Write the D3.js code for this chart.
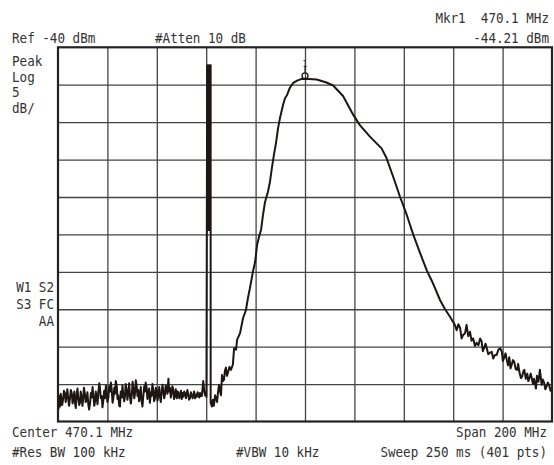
<!DOCTYPE html>
<html>
<head>
<meta charset="utf-8">
<script src="https://cdnjs.cloudflare.com/ajax/libs/d3/7.8.5/d3.min.js"></script>
<style>
  html, body { margin: 0; padding: 0; background: #ffffff; }
  svg { display: block; }
  text { font-family: "DejaVu Sans Mono", "Liberation Mono", monospace; fill: #333; white-space: pre; }
</style>
</head>
<body>
<svg id="chart" width="554" height="465"></svg>
<script>
// ---- Instrument settings ----
const refLevel = -40;        // dBm (top of screen)
const dbPerDiv = 5;
const numDivY = 10;
const centerFreq = 470.1;    // MHz
const spanFreq = 200;        // MHz
const numDivX = 10;

// ---- Marker ----
const markerFreq = 470.1;
const markerLevel = -44.21;
const markerLabel = "1";

// ---- Annotation texts ----
const topLeftTexts = ["Ref -40 dBm", "#Atten 10 dB"];
const markerTexts = ["Mkr1  470.1 MHz", "-44.21 dBm"];
const leftTexts = ["Peak", "Log", "5", "dB/"];
const leftStatus = ["W1 S2", "S3 FC", "AA"];
const bottomTexts = ["Center 470.1 MHz", "Span 200 MHz", "#Res BW 100 kHz", "#VBW 10 kHz", "Sweep 250 ms (401 pts)"];

// ---- Trace: [frequency MHz, level dBm] ----
const noiseFloor = [
  [370.1,-86.9],[370.3,-88.3],[370.5,-87.6],[370.7,-86.6],[370.9,-88.0],[371.2,-86.3],[371.5,-87.0],[371.8,-87.8],
  [372.2,-86.9],[372.5,-85.9],[372.9,-86.2],[373.2,-87.4],[373.6,-86.5],[373.9,-85.7],[374.3,-87.2],[374.6,-87.9],
  [375.0,-86.7],[375.3,-85.8],[375.7,-86.3],[376.0,-87.6],[376.3,-87.1],[376.7,-86.0],[377.0,-87.5],[377.3,-88.2],
  [377.7,-86.2],[378.0,-85.6],[378.3,-86.9],[378.7,-87.8],[379.0,-87.5],[379.3,-86.0],[379.6,-86.6],[380.0,-87.9],
  [380.3,-86.9],[380.6,-85.5],[381.0,-86.3],[381.3,-87.4],[381.7,-87.1],[382.0,-86.1],[382.4,-87.8],[382.7,-88.4],
  [383.1,-87.5],[383.4,-86.2],[383.7,-86.8],[384.1,-85.4],[384.4,-86.5],[384.8,-87.9],[385.1,-87.3],[385.4,-86.0],
  [385.8,-86.9],[386.1,-87.7],[386.4,-86.2],[386.8,-84.9],[387.1,-85.5],[387.4,-86.9],[387.8,-86.6],[388.1,-88.1],
  [388.4,-87.3],[388.8,-85.9],[389.1,-86.9],[389.5,-85.2],[389.8,-86.2],[390.1,-87.4],[390.5,-86.8],[390.8,-85.3],
  [391.2,-86.0],[391.5,-84.8],[391.8,-85.6],[392.2,-87.5],[392.5,-86.9],[392.9,-85.5],[393.2,-86.3],[393.5,-84.6],
  [393.9,-85.3],[394.2,-87.0],[394.5,-86.5],[394.9,-87.9],[395.2,-88.0],[395.5,-86.0],[395.9,-86.8],[396.2,-85.2],
  [396.5,-86.2],[396.9,-87.3],[397.2,-86.7],[397.5,-85.0],[397.9,-85.8],[398.2,-87.1],[398.6,-86.1],[398.9,-84.9],
  [399.3,-86.9],[399.6,-87.6],[400.0,-86.4],[400.3,-84.7],[400.6,-85.5],[401.0,-86.9],[401.3,-86.2],[401.6,-84.5],
  [401.9,-85.1],[402.3,-86.6],[402.6,-85.8],[402.9,-87.3],[403.3,-86.5],[403.6,-85.4],[403.9,-87.2],[404.3,-88.0],
  [404.6,-86.7],[405.0,-85.3],[405.3,-86.0],[405.6,-84.8],[406.0,-85.5],[406.3,-87.0],[406.6,-86.4],[407.0,-85.6],
  [407.3,-87.5],[407.7,-86.1],[408.0,-86.6],[408.3,-85.0],[408.7,-85.8],[409.0,-87.3],[409.4,-86.9],[409.7,-85.5],
  [410.1,-86.0],[410.4,-87.2],[410.7,-86.5],[411.1,-85.4],[411.4,-86.7],[411.7,-87.4],[412.1,-86.0],[412.4,-85.1],
  [412.7,-85.8],[413.1,-86.9],[413.4,-86.4],[413.7,-85.2],[414.1,-85.5],[414.4,-86.3],[414.8,-84.3],[415.1,-86.0],
  [415.4,-85.5],[415.8,-86.8],[416.1,-86.2],[416.4,-85.3],[416.8,-85.8],[417.1,-87.0],[417.5,-86.5],[417.8,-85.7],
  [418.2,-86.9],[418.5,-86.0],[418.8,-86.1],[419.2,-86.9],[419.5,-86.5],[419.9,-85.9],[420.2,-87.0],[420.5,-86.2],
  [420.8,-86.7],[421.2,-86.0],[421.5,-86.3],[421.9,-86.9],[422.2,-86.2],[422.5,-85.8],[422.9,-86.6],[423.2,-87.1],
  [423.5,-86.9],[423.9,-86.1],[424.2,-86.5],[424.6,-86.9],[424.9,-86.5],[425.2,-86.0],[425.6,-86.9],[425.9,-86.4],
  [426.3,-86.7],[426.6,-86.1],[426.9,-86.3],[427.3,-86.8],[427.6,-86.2],[427.9,-86.6],[428.3,-86.6],[428.6,-85.7],
  [428.9,-84.6],[429.3,-85.9],[429.6,-86.5],[429.9,-86.1],[430.2,-86.7]
];
const spurSignal = [
  [430.5,-42.4],[430.75,-64.4],[431.0,-42.4],[431.25,-64.4],[431.5,-42.4],[431.75,-64.4],
  [431.9,-42.4],[431.9,-87.5]
];
const risingEdge = [
  [432.4,-88.0],[432.8,-87.1],[433.2,-87.9],[433.7,-86.5],[434.1,-86.9],[434.5,-87.4],[434.9,-86.0],[435.3,-85.1],
  [435.7,-86.0],[436.1,-86.5],[436.5,-83.8],[436.9,-84.6],[437.3,-84.4],[437.7,-83.2],[438.1,-82.8],[438.5,-83.9],
  [438.9,-83.5],[439.5,-82.7],[440.1,-83.1],[440.9,-82.4],[441.4,-80.2],[442.2,-80.4],[442.6,-79.1],
  [443.8,-78.2],[445.0,-76.2],[446.2,-75.1],[447.0,-73.5],[447.8,-72.2],[449.0,-70.0],[449.9,-68.7],
  [450.7,-66.4],[451.5,-65.3],[452.3,-64.4],[453.1,-62.4],[453.9,-60.7],[455.1,-59.3],[455.9,-58.0],
  [456.7,-56.1],[457.5,-54.4],[458.4,-52.7],[459.2,-50.8],[460.0,-49.4],[461.2,-47.7],[462.0,-46.8],
  [462.8,-46.4],[464.0,-45.4],[465.2,-44.8],[466.9,-44.45],[468.5,-44.25],[470.1,-44.21]
];
const fallingEdge = [
  [474.8,-44.3],[478.8,-44.7],[481.5,-45.1],[485.5,-46.5],[489.6,-49.0],[492.3,-50.4],[496.3,-51.9],
  [501.1,-53.5],[503.1,-54.8],[505.8,-57.3],[508.6,-60.0],[511.3,-62.4],[514.0,-65.1],[516.7,-67.5],
  [519.4,-69.8],[522.0,-71.6],[524.8,-73.8],[526.8,-75.0],[528.8,-76.0],[530.8,-77.1],[531.5,-77.8],
  [532.2,-77.0],[532.9,-77.5],[533.5,-78.9],[534.2,-78.4],[534.9,-78.2],[535.5,-77.1],[536.2,-78.6],[536.9,-78.0],
  [537.5,-79.2],[538.2,-78.9],[538.9,-79.9],[539.6,-79.5],[540.3,-79.8],[541.0,-78.9],[541.6,-79.3],[542.1,-80.6],
  [542.6,-80.2],[543.2,-79.6],[543.7,-80.2],[544.3,-81.0],[545.0,-80.8],[545.7,-80.7],[546.3,-81.6],[547.0,-81.1],
  [547.7,-81.1],[548.4,-80.4],[549.1,-80.2],[549.8,-80.7],[550.2,-81.9],[550.7,-81.5],[551.3,-80.9],[551.8,-81.8],
  [552.3,-82.5],[552.8,-81.4],[553.3,-82.9],[553.8,-82.4],[554.3,-81.8],[554.8,-82.0],[555.4,-83.0],[556.0,-83.1],
  [556.4,-82.3],[556.9,-83.4],[557.5,-84.2],[558.0,-84.0],[558.5,-83.3],[558.9,-83.1],[559.5,-84.3],[560.1,-83.6],
  [560.5,-84.6],[561.0,-84.2],[561.5,-83.6],[561.9,-84.2],[562.4,-85.0],[562.8,-84.3],[563.2,-84.9],[563.6,-85.6],
  [564.0,-83.9],[564.6,-84.7],[565.2,-83.1],[565.6,-84.2],[565.9,-85.1],[566.4,-84.4],[566.9,-84.8],[567.4,-85.7],
  [567.9,-85.3],[568.4,-84.8],[568.9,-85.1],[569.5,-85.9],[570.0,-85.8]
];
const trace = [].concat(noiseFloor, spurSignal, risingEdge, fallingEdge);

// ---- Layout ----
const svg = d3.select("#chart");
const plot = { left: 58, right: 552, top: 47.3, bottom: 421.5 };

const startFreq = centerFreq - spanFreq / 2;
const stopFreq = centerFreq + spanFreq / 2;
const bottomLevel = refLevel - dbPerDiv * numDivY;

const x = d3.scaleLinear().domain([startFreq, stopFreq]).range([plot.left, plot.right]);
const y = d3.scaleLinear().domain([bottomLevel, refLevel]).range([plot.bottom, plot.top]);

const xGrid = d3.range(1, numDivX).map(i => startFreq + i * spanFreq / numDivX);
const yGrid = d3.range(1, numDivY).map(i => refLevel - i * dbPerDiv);

// grid via axes
const gx = svg.append("g")
  .attr("transform", `translate(0,${plot.bottom})`)
  .call(d3.axisBottom(x).tickValues(xGrid).tickSize(-(plot.bottom - plot.top)).tickFormat(""));
const gy = svg.append("g")
  .attr("transform", `translate(${plot.left},0)`)
  .call(d3.axisLeft(y).tickValues(yGrid).tickSize(-(plot.right - plot.left)).tickFormat(""));
[gx, gy].forEach(g => {
  g.select(".domain").remove();
  g.selectAll(".tick line").attr("stroke", "#444").attr("stroke-width", 1.3);
});

// frame
svg.append("rect")
  .attr("x", plot.left).attr("y", plot.top)
  .attr("width", plot.right - plot.left).attr("height", plot.bottom - plot.top)
  .attr("fill", "none").attr("stroke", "#222").attr("stroke-width", 2.2);

// clip
svg.append("clipPath").attr("id", "clip").append("rect")
  .attr("x", plot.left).attr("y", plot.top)
  .attr("width", plot.right - plot.left).attr("height", plot.bottom - plot.top);

// trace
const line = d3.line().x(d => x(d[0])).y(d => y(d[1]));
svg.append("path")
  .datum(trace)
  .attr("clip-path", "url(#clip)")
  .attr("d", line)
  .attr("fill", "none")
  .attr("stroke", "#1e1613")
  .attr("stroke-width", 2)
  .attr("stroke-linejoin", "round");

// marker
const mx = x(markerFreq), my = y(markerLevel);
svg.append("circle").attr("cx", mx).attr("cy", my - 3)
  .attr("r", 3).attr("fill", "none").attr("stroke", "#1e1613").attr("stroke-width", 1.3);
svg.append("line").attr("x1", mx).attr("x2", mx).attr("y1", my - 13).attr("y2", my - 6)
  .attr("stroke", "#1e1613").attr("stroke-width", 1);
svg.append("text").attr("x", mx).attr("y", my - 12).attr("text-anchor", "middle")
  .style("font-size", "8px").text(markerLabel);

// texts (condensed monospace, like the analyzer screen font)
const fs = 14;
const sx = 0.9;
function txt(s, xx, yy, anchor) {
  svg.append("text")
    .attr("transform", `translate(${xx},${yy}) scale(${sx},1)`)
    .attr("text-anchor", anchor || "start")
    .style("font-size", fs + "px").text(s);
}
txt(topLeftTexts[0], 12, 42.5);
txt(topLeftTexts[1], 155, 42.5);
txt(markerTexts[0], 549, 23.3, "end");
txt(markerTexts[1], 549, 42.5, "end");
leftTexts.forEach((s, i) => txt(s, 12, 66 + i * 15.5));
leftStatus.forEach((s, i) => txt(s, 54, 291.5 + i * 17, "end"));
txt(bottomTexts[0], 12, 436.7);
txt(bottomTexts[1], 547, 436.7, "end");
txt(bottomTexts[2], 12, 457.3);
txt(bottomTexts[3], 236, 457.3);
txt(bottomTexts[4], 547, 457.3, "end");
</script>
</body>
</html>
